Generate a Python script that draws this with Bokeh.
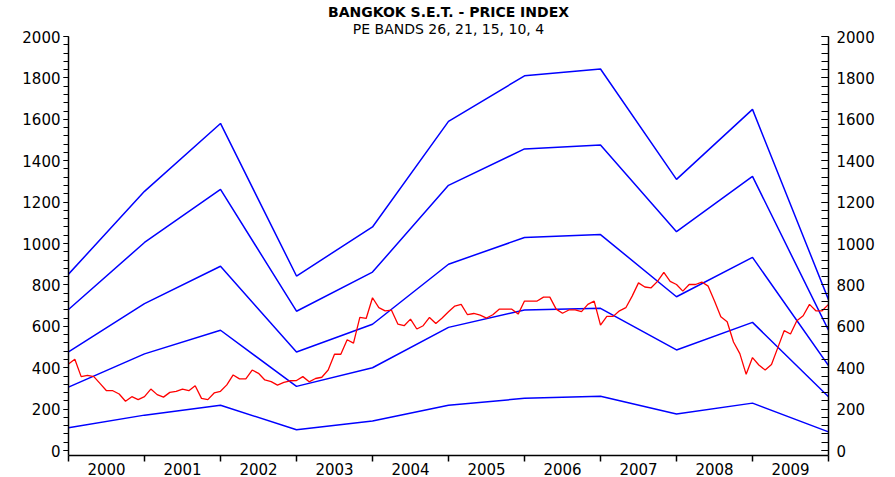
from bokeh.plotting import figure
from bokeh.models import Range1d, LinearAxis, SingleIntervalTicker, FixedTicker, CustomJSTickFormatter, Title
from bokeh.embed import file_html
from bokeh.resources import INLINE

# PE band values at each year boundary (2000 .. 2010)
band_years = [2000, 2001, 2002, 2003, 2004, 2005, 2006, 2007, 2008, 2009, 2010]
pe26 = [852, 1252, 1580, 843, 1080, 1590, 1810, 1843, 1310, 1648, 729]
pe21 = [681, 1005, 1262, 673, 862, 1281, 1457, 1476, 1057, 1324, 581]
pe15 = [476, 710, 890, 476, 610, 900, 1029, 1043, 743, 933, 410]
pe10 = [306, 467, 581, 310, 400, 595, 679, 687, 486, 619, 260]
pe4 = [110, 171, 219, 100, 143, 219, 252, 262, 176, 229, 90]

# Monthly SET price index, Jan 2000 .. Jan 2010
set_index = [
    418, 441, 357, 363, 357, 323, 289, 289, 273, 238, 260, 246,
    260, 297, 270, 258, 281, 286, 297, 289, 313, 252, 246, 278,
    286, 317, 365, 346, 346, 389, 373, 341, 333, 316, 329, 337,
    338, 357, 332, 348, 354, 389, 465, 465, 535, 519, 643, 638,
    738, 690, 675, 678, 611, 603, 635, 587, 603, 643, 614, 640,
    670, 698, 706, 656, 662, 654, 640, 656, 683, 683, 683, 659,
    722, 722, 722, 741, 741, 683, 663, 679, 679, 671, 706, 722,
    606, 648, 648, 675, 690, 746, 810, 790, 786, 817, 860, 817,
    802, 770, 802, 802, 814, 794, 722, 646, 622, 524, 468, 368,
    449, 413, 389, 416, 497, 579, 563, 627, 651, 706, 675, 675,
    706,
]
set_x = [2000 + i / 12 for i in range(len(set_index))]

year_labels = [2000, 2001, 2002, 2003, 2004, 2005, 2006, 2007, 2008, 2009]

FONT = "DejaVu Sans"

p = figure(width=895, height=477, title=None,
           x_range=Range1d(2000, 2010), y_range=Range1d(-24, 2000),
           output_backend="svg", toolbar_location=None,
           min_border_left=68, min_border_right=67,
           min_border_top=36, min_border_bottom=0)
p.outline_line_color = None
p.grid.visible = False
p.background_fill_color = "white"

sub = Title(text="PE BANDS 26, 21, 15, 10, 4", align="center", offset=-12,
            text_font=FONT, text_font_size="14px", text_font_style="normal",
            text_color="black", standoff=0)
main = Title(text="BANGKOK S.E.T. - PRICE INDEX", align="center", offset=-12,
             text_font=FONT, text_font_size="14px", text_font_style="bold",
             text_color="black", standoff=-3)
p.add_layout(sub, "above")
p.add_layout(main, "above")

for band in [pe26, pe21, pe15, pe10, pe4]:
    p.line(band_years, band, line_color="#0000FF", line_width=1.5)
p.line(set_x, set_index, line_color="#FF0000", line_width=1.3)

# bottom axis: ticks at year boundaries, labels centred in each year
xa = p.xaxis[0]
xa.ticker = FixedTicker(ticks=[y + 0.5 for y in year_labels],
                        minor_ticks=band_years)
xa.formatter = CustomJSTickFormatter(code="return Math.floor(tick).toString();")
xa.major_tick_out = 0
xa.major_tick_in = 0
xa.minor_tick_out = 6
xa.minor_tick_in = 0
xa.major_label_standoff = 1
xa.axis_line_width = 1.5
xa.minor_tick_line_width = 1.5
xa.major_label_text_font = FONT
xa.major_label_text_font_size = "15px"
xa.major_label_text_color = "black"

# left axis
ya = p.yaxis[0]
ya.ticker = SingleIntervalTicker(interval=200, num_minor_ticks=5)
ya.major_tick_out = 5
ya.major_tick_in = 0
ya.minor_tick_out = 5
ya.minor_tick_in = 0
ya.major_label_standoff = 3
ya.axis_line_width = 1.5
ya.major_label_text_font = FONT
ya.major_label_text_font_size = "15px"
ya.major_label_text_color = "black"

# right axis
ra = LinearAxis(ticker=SingleIntervalTicker(interval=200, num_minor_ticks=5))
ra.major_tick_out = 0
ra.major_tick_in = 7
ra.minor_tick_out = 0
ra.minor_tick_in = 7
ra.major_label_standoff = 8
ra.axis_line_width = 1.5
ra.major_label_text_font = FONT
ra.major_label_text_font_size = "15px"
ra.major_label_text_color = "black"
p.add_layout(ra, "right")

open("out.html", "w").write(file_html(p, INLINE))
